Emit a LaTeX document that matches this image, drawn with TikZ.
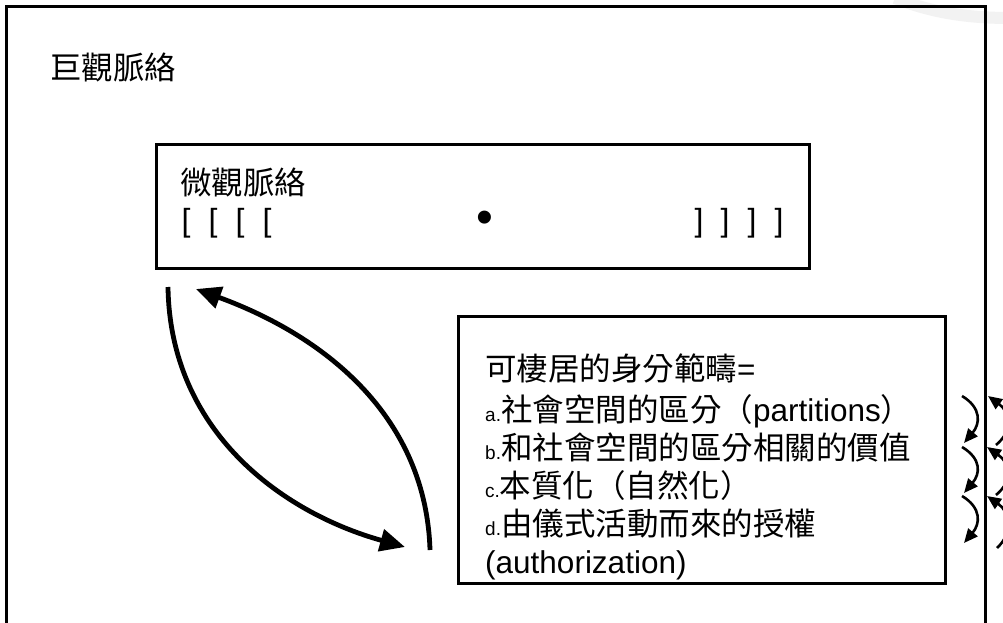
\documentclass[tikz,border=0pt]{standalone}
\usepackage{fontspec}
\setmainfont{Liberation Sans}
\newfontfamily\cjk{Noto Sans CJK TC}
\usetikzlibrary{arrows.meta}
\newcommand\smlab[1]{{\fontsize{19}{19}\selectfont #1}}
\tikzset{
  frame/.style={draw=black, line width=3pt, inner sep=0pt, anchor=north west},
  txt/.style={font=\fontsize{31.5}{38}\selectfont, anchor=base west, inner sep=0pt},
  brk/.style={font=\fontsize{32}{32}\selectfont, anchor=base, inner sep=0pt},
  bigarrow/.style={line width=4.8pt, -{Triangle[length=25pt,width=22pt]}},
  smallarrow/.style={line width=2.6pt, -{Triangle[length=14pt,width=12pt]}}
}
\begin{document}
\begin{tikzpicture}[x=1pt,y=-1pt]
\useasboundingbox (0,0) rectangle (1003,623);
\clip (0,0) rectangle (1003,623);
\fill[white] (0,0) rectangle (1003,623);
% faint watermark
\draw[black!5, line width=12pt] (895,-2) .. controls (930,12) and (965,18) .. (1010,18);
% outer frame
\node[frame, minimum width=979pt, minimum height=640pt] (macro) at (5,5) {};
\node[txt] (macrot) at (50,80) {\cjk 巨觀脈絡};
% micro box
\node[frame, minimum width=653pt, minimum height=124pt] (micro) at (155,143) {};
\node[txt] (microt) at (180,194) {\cjk 微觀脈絡};
\node[brk] (l1) at (186,231) {[};
\node[brk] (l2) at (213,231) {[};
\node[brk] (l3) at (240,231) {[};
\node[brk] (l4) at (267,231) {[};
\node[font=\fontsize{48}{48}\selectfont, inner sep=0pt, anchor=center] (dot) at (485,222) {•};
\node[brk] (r1) at (699,231) {]};
\node[brk] (r2) at (725,231) {]};
\node[brk] (r3) at (752,231) {]};
\node[brk] (r4) at (779,231) {]};
% identity box
\node[frame, minimum width=487pt, minimum height=267pt] (ident) at (457,315) {};
\node[txt] (t0) at (485,380) {\cjk 可棲居的身分範疇\normalfont=};
\node[txt] (ta) at (485,421) {\smlab{a.}{\cjk 社會空間的區分（}partitions{\cjk ）}};
\node[txt] (tb) at (485,459) {\smlab{b.}{\cjk 和社會空間的區分相關的價值}};
\node[txt] (tc) at (485,497) {\smlab{c.}{\cjk 本質化（自然化）}};
\node[txt] (td) at (485,535) {\smlab{d.}{\cjk 由儀式活動而來的授權}};
\node[txt] (te) at (485,573) {(authorization)};
% lens arrows
\coordinate (a1s) at (168,287);
\coordinate (a1e) at (405,547);
\coordinate (a2s) at (430,550);
\coordinate (a2e) at (196,289);
\draw[bigarrow] (a1s) .. controls (170,430) and (280,512) .. (a1e);
\draw[bigarrow] (a2s) .. controls (426,420) and (330,338) .. (a2e);
% small arrows between box and frame
\coordinate (s1a) at (962,396); \coordinate (s1b) at (964,443);
\coordinate (s2a) at (962,447); \coordinate (s2b) at (964,493);
\coordinate (s3a) at (962,496); \coordinate (s3b) at (964,543);
\draw[smallarrow] (s1a) .. controls (982,408) and (980,424) .. (s1b);
\draw[smallarrow] (s2a) .. controls (982,459) and (980,474) .. (s2b);
\draw[smallarrow] (s3a) .. controls (982,508) and (980,524) .. (s3b);
% small arrows outside the frame
\coordinate (u1a) at (996,445); \coordinate (u1b) at (988,396);
\coordinate (u2a) at (996,495); \coordinate (u2b) at (987,447);
\coordinate (u3a) at (997,548); \coordinate (u3b) at (987,496);
\draw[smallarrow] (u1a) .. controls (1014,430) and (1010,412) .. (u1b);
\draw[smallarrow] (u2a) .. controls (1014,480) and (1010,463) .. (u2b);
\draw[smallarrow] (u3a) .. controls (1014,532) and (1010,512) .. (u3b);
\end{tikzpicture}
\end{document}
